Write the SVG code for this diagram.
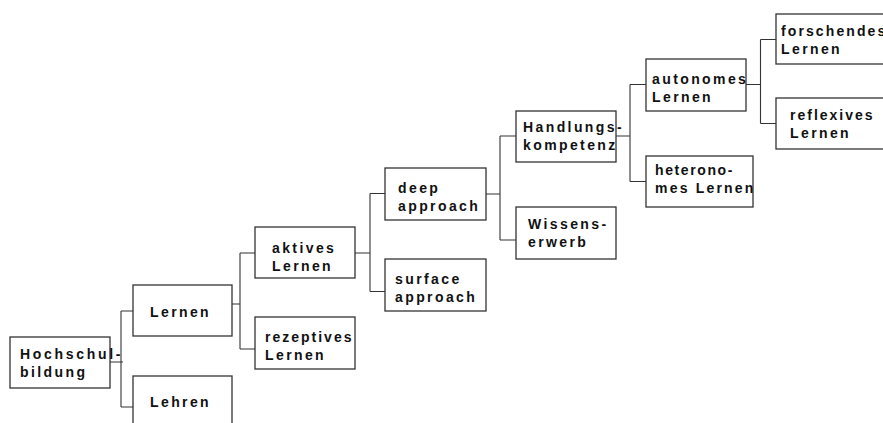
<svg xmlns="http://www.w3.org/2000/svg" width="883" height="423" viewBox="0 0 883 423">
<style>
.box{fill:#fff;stroke:#333;stroke-width:1.3}
.t{font-family:"Liberation Sans",Arial,sans-serif;font-weight:bold;font-size:14px;letter-spacing:2.4px;fill:#111}
.n{letter-spacing:2px}
.c{stroke:#333;stroke-width:1.1;fill:none}
</style>
<rect width="883" height="423" fill="#fff"/>
<g id="connectors">
<path class="c" d="M110,362H123M121,311V407M121,311H133M121,407H133"/>
<path class="c" d="M232,304H240M240,253V349M240,253H255M240,349H255"/>
<path class="c" d="M355,253H370M370,193.5V291.5M370,193.5H385M370,291.5H385"/>
<path class="c" d="M486,194H500M500,136V240M500,136H516M500,240H516"/>
<path class="c" d="M616,136H630M630,84.5V181.5M630,84.5H646M630,181.5H646"/>
<path class="c" d="M746,84.5H760.5M760.5,39.5V123.5M760.5,39.5H776M760.5,123.5H776"/>
</g>
<g id="n-hochschulbildung"><rect class="box" x="10" y="337" width="100" height="51"/><text class="t" x="20" y="359" style="letter-spacing:2.7px">Hochschul-</text><text class="t" x="20" y="377">bildung</text></g>
<g id="n-lernen"><rect class="box" x="133" y="285" width="99" height="51"/><text class="t" x="150" y="317">Lernen</text></g>
<g id="n-lehren"><rect class="box" x="133" y="376" width="99" height="60"/><text class="t" x="150" y="407">Lehren</text></g>
<g id="n-aktives"><rect class="box" x="255" y="227" width="100" height="51"/><text class="t" x="272" y="252.7">aktives</text><text class="t" x="272" y="270.5">Lernen</text></g>
<g id="n-rezeptives"><rect class="box" x="255" y="317" width="100" height="52"/><text class="t n" x="265" y="341.5">rezeptives</text><text class="t" x="265" y="359.5">Lernen</text></g>
<g id="n-deep"><rect class="box" x="385" y="168" width="101" height="52"/><text class="t" x="398" y="192.5">deep</text><text class="t" x="398" y="210.5">approach</text></g>
<g id="n-surface"><rect class="box" x="385" y="259" width="101" height="52"/><text class="t" x="395" y="284">surface</text><text class="t" x="395" y="301.5">approach</text></g>
<g id="n-handlung"><rect class="box" x="516" y="111" width="100" height="51"/><text class="t" x="523" y="132">Handlungs-</text><text class="t" x="523" y="149.5">kompetenz</text></g>
<g id="n-wissen"><rect class="box" x="516" y="207" width="100" height="52"/><text class="t" x="528" y="228.5">Wissens-</text><text class="t" x="528" y="246.5">erwerb</text></g>
<g id="n-autonomes"><rect class="box" x="646" y="59" width="100" height="52"/><text class="t" x="652" y="83.5">autonomes</text><text class="t" x="652" y="101.5">Lernen</text></g>
<g id="n-heteronomes"><rect class="box" x="646" y="156" width="107" height="51"/><text class="t" x="655" y="175" style="letter-spacing:1.6px">heterono-</text><text class="t" x="655" y="193" style="letter-spacing:2.2px">mes Lernen</text></g>
<g id="n-forschendes"><rect class="box" x="776" y="14" width="120" height="50"/><text class="t" x="781" y="36" style="letter-spacing:2.1px">forschendes</text><text class="t" x="781" y="54">Lernen</text></g>
<g id="n-reflexives"><rect class="box" x="776" y="98" width="120" height="51"/><text class="t n" x="790" y="119.5">reflexives</text><text class="t" x="790" y="137.5">Lernen</text></g>
</svg>
